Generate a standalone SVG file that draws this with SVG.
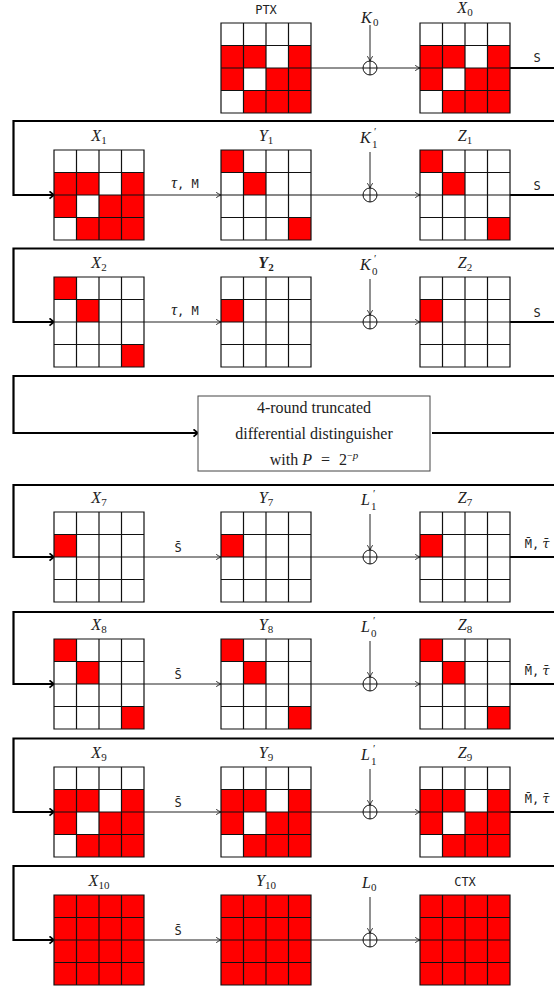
<svg xmlns="http://www.w3.org/2000/svg" xmlns:xlink="http://www.w3.org/1999/xlink" width="554" height="989" viewBox="0 0 554 989">
<style>
.bg{fill:#fff}
.r{fill:#ff0000}
.gl{fill:none;stroke:#111;stroke-width:1.2}
.thin{fill:none;stroke:#222;stroke-width:1}
.thick{fill:none;stroke:#000;stroke-width:2.2}
.it{font-family:"Liberation Serif",serif;font-style:italic;font-size:16px;fill:#222}
.itd{font-family:"DejaVu Serif",serif;font-style:italic;font-size:13px;fill:#222}
.rm{font-family:"Liberation Serif",serif;font-size:16px;fill:#222}
.sub{font-family:"Liberation Serif",serif;font-size:11px;fill:#222}
.tt{font-family:"DejaVu Sans Mono",monospace;font-size:12px;fill:#222}
.xo{fill:#fff;stroke:#111;stroke-width:1}
</style>
<defs>
<marker id="ah" viewBox="0 0 8 8" refX="7" refY="4" markerWidth="7" markerHeight="7" markerUnits="userSpaceOnUse" orient="auto">
<path d="M1.5,1 Q4.5,3 7,4 Q4.5,5 1.5,7" fill="none" stroke="#111" stroke-width="1"/>
</marker>
<marker id="ahT" viewBox="0 0 10 10" refX="9" refY="5" markerWidth="9" markerHeight="9" markerUnits="userSpaceOnUse" orient="auto">
<path d="M4,1 L9,5 L4,9" fill="none" stroke="#000" stroke-width="2"/>
</marker>
<path id="grid" class="gl" d="M0 0H90V90H0Z M22.5 0V90 M45 0V90 M67.5 0V90 M0 22.5H90 M0 45H90 M0 67.5H90"/>
<g id="cA"><rect class="r" x="0" y="22.5" width="45" height="22.5"/><rect class="r" x="67.5" y="22.5" width="22.5" height="22.5"/><rect class="r" x="0" y="45" width="22.5" height="22.5"/><rect class="r" x="45" y="45" width="45" height="22.5"/><rect class="r" x="22.5" y="67.5" width="67.5" height="22.5"/></g>
<g id="cB"><rect class="r" x="0" y="0" width="22.5" height="22.5"/><rect class="r" x="22.5" y="22.5" width="22.5" height="22.5"/><rect class="r" x="67.5" y="67.5" width="22.5" height="22.5"/></g>
<g id="cC"><rect class="r" x="0" y="22.5" width="22.5" height="22.5"/></g>
<g id="cD"><rect class="r" x="0" y="0" width="90" height="90"/></g>
<g id="xor"><circle class="xo" cx="0" cy="0" r="7"/><path d="M-7 0H7M0 -7V7" stroke="#111" stroke-width="1"/></g>
</defs>

<g id="connectors">
<path class="thin" d="M311 68H363"/>
<path class="thin" d="M377 68H420" marker-end="url(#ah)"/>
<path class="thin" d="M370 25V61" marker-end="url(#ah)"/>
<path class="thick" d="M510 68H554"/>
<path class="thick" d="M554 121H13.5V195H54" marker-end="url(#ahT)"/>
<path class="thin" d="M144 195H221" marker-end="url(#ah)"/>
<path class="thin" d="M311 195H363"/>
<path class="thin" d="M377 195H420" marker-end="url(#ah)"/>
<path class="thin" d="M370 152V188" marker-end="url(#ah)"/>
<path class="thick" d="M510 195H554"/>
<path class="thick" d="M554 248.5H13.5V322H54" marker-end="url(#ahT)"/>
<path class="thin" d="M144 322H221" marker-end="url(#ah)"/>
<path class="thin" d="M311 322H363"/>
<path class="thin" d="M377 322H420" marker-end="url(#ah)"/>
<path class="thin" d="M370 279V315" marker-end="url(#ah)"/>
<path class="thick" d="M510 322H554"/>
<path class="thick" d="M554 376H13.5V433H198" marker-end="url(#ahT)"/>
<path class="thick" d="M432 433H554"/>
<path class="thick" d="M554 485H13.5V557H54" marker-end="url(#ahT)"/>
<path class="thin" d="M144 557H221" marker-end="url(#ah)"/>
<path class="thin" d="M311 557H363"/>
<path class="thin" d="M377 557H420" marker-end="url(#ah)"/>
<path class="thin" d="M370 514V550" marker-end="url(#ah)"/>
<path class="thick" d="M510 557H554"/>
<path class="thick" d="M554 612H13.5V684H54" marker-end="url(#ahT)"/>
<path class="thin" d="M144 684H221" marker-end="url(#ah)"/>
<path class="thin" d="M311 684H363"/>
<path class="thin" d="M377 684H420" marker-end="url(#ah)"/>
<path class="thin" d="M370 641V677" marker-end="url(#ah)"/>
<path class="thick" d="M510 684H554"/>
<path class="thick" d="M554 738.5H13.5V812H54" marker-end="url(#ahT)"/>
<path class="thin" d="M144 812H221" marker-end="url(#ah)"/>
<path class="thin" d="M311 812H363"/>
<path class="thin" d="M377 812H420" marker-end="url(#ah)"/>
<path class="thin" d="M370 769V805" marker-end="url(#ah)"/>
<path class="thick" d="M510 812H554"/>
<path class="thick" d="M554 866H13.5V940H54" marker-end="url(#ahT)"/>
<path class="thin" d="M144 940H221" marker-end="url(#ah)"/>
<path class="thin" d="M311 940H363"/>
<path class="thin" d="M377 940H420" marker-end="url(#ah)"/>
<path class="thin" d="M370 897V933" marker-end="url(#ah)"/>
</g>

<g id="edge-labels">
<text class="tt" x="537" y="62" text-anchor="middle">S</text>
<text x="185" y="188" text-anchor="middle"><tspan class="it">τ</tspan><tspan class="tt">, M</tspan></text>
<text class="tt" x="537" y="190" text-anchor="middle">S</text>
<text x="185" y="315" text-anchor="middle"><tspan class="it">τ</tspan><tspan class="tt">, M</tspan></text>
<text class="tt" x="537" y="317" text-anchor="middle">S</text>
<text class="tt" x="178" y="552" text-anchor="middle">S&#x304;</text>
<text x="537" y="548" text-anchor="middle"><tspan class="tt">M&#x304;,</tspan><tspan class="itd" dx="3">τ&#x304;</tspan></text>
<text class="tt" x="178" y="679" text-anchor="middle">S&#x304;</text>
<text x="537" y="675" text-anchor="middle"><tspan class="tt">M&#x304;,</tspan><tspan class="itd" dx="3">τ&#x304;</tspan></text>
<text class="tt" x="178" y="807" text-anchor="middle">S&#x304;</text>
<text x="537" y="803" text-anchor="middle"><tspan class="tt">M&#x304;,</tspan><tspan class="itd" dx="3">τ&#x304;</tspan></text>
<text class="tt" x="178" y="935" text-anchor="middle">S&#x304;</text>
</g>

<g id="keys">
<g id="k0"><text class="it" x="361" y="23">K</text><text class="sub" x="373" y="26">0</text></g>
<g id="k1p"><text class="it" x="360" y="143">K</text><text class="sub"><tspan x="374" y="135">′</tspan><tspan x="372" y="148">1</tspan></text></g>
<g id="k0p"><text class="it" x="360" y="270">K</text><text class="sub"><tspan x="374" y="262">′</tspan><tspan x="372" y="275">0</tspan></text></g>
<g id="l1p_a"><text class="it" x="361" y="505">L</text><text class="sub"><tspan x="373" y="497">′</tspan><tspan x="371" y="510">1</tspan></text></g>
<g id="l0p"><text class="it" x="361" y="632">L</text><text class="sub"><tspan x="373" y="624">′</tspan><tspan x="371" y="637">0</tspan></text></g>
<g id="l1p_b"><text class="it" x="361" y="760">L</text><text class="sub"><tspan x="373" y="752">′</tspan><tspan x="371" y="765">1</tspan></text></g>
<g id="l0"><text class="it" x="362" y="888">L</text><text class="sub" x="371" y="891">0</text></g>
</g>

<g id="xors">
<use xlink:href="#xor" href="#xor" x="370" y="68"/>
<use xlink:href="#xor" href="#xor" x="370" y="195"/>
<use xlink:href="#xor" href="#xor" x="370" y="322"/>
<use xlink:href="#xor" href="#xor" x="370" y="557"/>
<use xlink:href="#xor" href="#xor" x="370" y="684"/>
<use xlink:href="#xor" href="#xor" x="370" y="812"/>
<use xlink:href="#xor" href="#xor" x="370" y="940"/>
</g>

<g id="ptx" transform="translate(221,23)"><rect class="bg" width="90" height="90"/><use href="#cA"/><use href="#grid"/><text class="tt" x="45" y="-9" text-anchor="middle">PTX</text></g>
<g id="x0" transform="translate(420,23)"><rect class="bg" width="90" height="90"/><use href="#cA"/><use href="#grid"/><text x="45" y="-10" text-anchor="middle"><tspan class="it">X</tspan><tspan class="sub" dy="3">0</tspan></text></g>
<g id="x1" transform="translate(54,150)"><rect class="bg" width="90" height="90"/><use href="#cA"/><use href="#grid"/><text x="45" y="-9" text-anchor="middle"><tspan class="it">X</tspan><tspan class="sub" dy="3">1</tspan></text></g>
<g id="y1" transform="translate(221,150)"><rect class="bg" width="90" height="90"/><use href="#cB"/><use href="#grid"/><text x="45" y="-9" text-anchor="middle"><tspan class="it">Y</tspan><tspan class="sub" dy="3">1</tspan></text></g>
<g id="z1" transform="translate(420,150)"><rect class="bg" width="90" height="90"/><use href="#cB"/><use href="#grid"/><text x="45" y="-9" text-anchor="middle"><tspan class="it">Z</tspan><tspan class="sub" dy="3">1</tspan></text></g>
<g id="x2" transform="translate(54,277)"><rect class="bg" width="90" height="90"/><use href="#cB"/><use href="#grid"/><text x="45" y="-9" text-anchor="middle"><tspan class="it">X</tspan><tspan class="sub" dy="3">2</tspan></text></g>
<g id="y2" transform="translate(221,277)"><rect class="bg" width="90" height="90"/><use href="#cC"/><use href="#grid"/><text x="45" y="-9" text-anchor="middle" font-weight="bold"><tspan class="it">Y</tspan><tspan class="sub" dy="3">2</tspan></text></g>
<g id="z2" transform="translate(420,277)"><rect class="bg" width="90" height="90"/><use href="#cC"/><use href="#grid"/><text x="45" y="-9" text-anchor="middle"><tspan class="it">Z</tspan><tspan class="sub" dy="3">2</tspan></text></g>
<g id="dist">
<rect x="198" y="396" width="232" height="75" fill="#fff" stroke="#444" stroke-width="1"/>
<text class="rm" x="314" y="413" text-anchor="middle">4-round truncated</text>
<text class="rm" x="314" y="439" text-anchor="middle">differential distinguisher</text>
<text class="rm" x="314" y="465" text-anchor="middle">with <tspan class="it">P</tspan><tspan dx="9">=</tspan><tspan dx="9">2</tspan><tspan dy="-6" style="font-size:10px">−</tspan><tspan style="font-size:11px;font-style:italic">p</tspan></text>
</g>
<g id="x7" transform="translate(54,512)"><rect class="bg" width="90" height="90"/><use href="#cC"/><use href="#grid"/><text x="45" y="-9" text-anchor="middle"><tspan class="it">X</tspan><tspan class="sub" dy="3">7</tspan></text></g>
<g id="y7" transform="translate(221,512)"><rect class="bg" width="90" height="90"/><use href="#cC"/><use href="#grid"/><text x="45" y="-9" text-anchor="middle"><tspan class="it">Y</tspan><tspan class="sub" dy="3">7</tspan></text></g>
<g id="z7" transform="translate(420,512)"><rect class="bg" width="90" height="90"/><use href="#cC"/><use href="#grid"/><text x="45" y="-9" text-anchor="middle"><tspan class="it">Z</tspan><tspan class="sub" dy="3">7</tspan></text></g>
<g id="x8" transform="translate(54,639)"><rect class="bg" width="90" height="90"/><use href="#cB"/><use href="#grid"/><text x="45" y="-9" text-anchor="middle"><tspan class="it">X</tspan><tspan class="sub" dy="3">8</tspan></text></g>
<g id="y8" transform="translate(221,639)"><rect class="bg" width="90" height="90"/><use href="#cB"/><use href="#grid"/><text x="45" y="-9" text-anchor="middle"><tspan class="it">Y</tspan><tspan class="sub" dy="3">8</tspan></text></g>
<g id="z8" transform="translate(420,639)"><rect class="bg" width="90" height="90"/><use href="#cB"/><use href="#grid"/><text x="45" y="-9" text-anchor="middle"><tspan class="it">Z</tspan><tspan class="sub" dy="3">8</tspan></text></g>
<g id="x9" transform="translate(54,767)"><rect class="bg" width="90" height="90"/><use href="#cA"/><use href="#grid"/><text x="45" y="-9" text-anchor="middle"><tspan class="it">X</tspan><tspan class="sub" dy="3">9</tspan></text></g>
<g id="y9" transform="translate(221,767)"><rect class="bg" width="90" height="90"/><use href="#cA"/><use href="#grid"/><text x="45" y="-9" text-anchor="middle"><tspan class="it">Y</tspan><tspan class="sub" dy="3">9</tspan></text></g>
<g id="z9" transform="translate(420,767)"><rect class="bg" width="90" height="90"/><use href="#cA"/><use href="#grid"/><text x="45" y="-9" text-anchor="middle"><tspan class="it">Z</tspan><tspan class="sub" dy="3">9</tspan></text></g>
<g id="x10" transform="translate(54,895)"><rect class="bg" width="90" height="90"/><use href="#cD"/><use href="#grid"/><text x="45" y="-9" text-anchor="middle"><tspan class="it">X</tspan><tspan class="sub" dy="3">10</tspan></text></g>
<g id="y10" transform="translate(221,895)"><rect class="bg" width="90" height="90"/><use href="#cD"/><use href="#grid"/><text x="45" y="-9" text-anchor="middle"><tspan class="it">Y</tspan><tspan class="sub" dy="3">10</tspan></text></g>
<g id="ctx" transform="translate(420,895)"><rect class="bg" width="90" height="90"/><use href="#cD"/><use href="#grid"/><text class="tt" x="45" y="-9" text-anchor="middle">CTX</text></g>
</svg>
